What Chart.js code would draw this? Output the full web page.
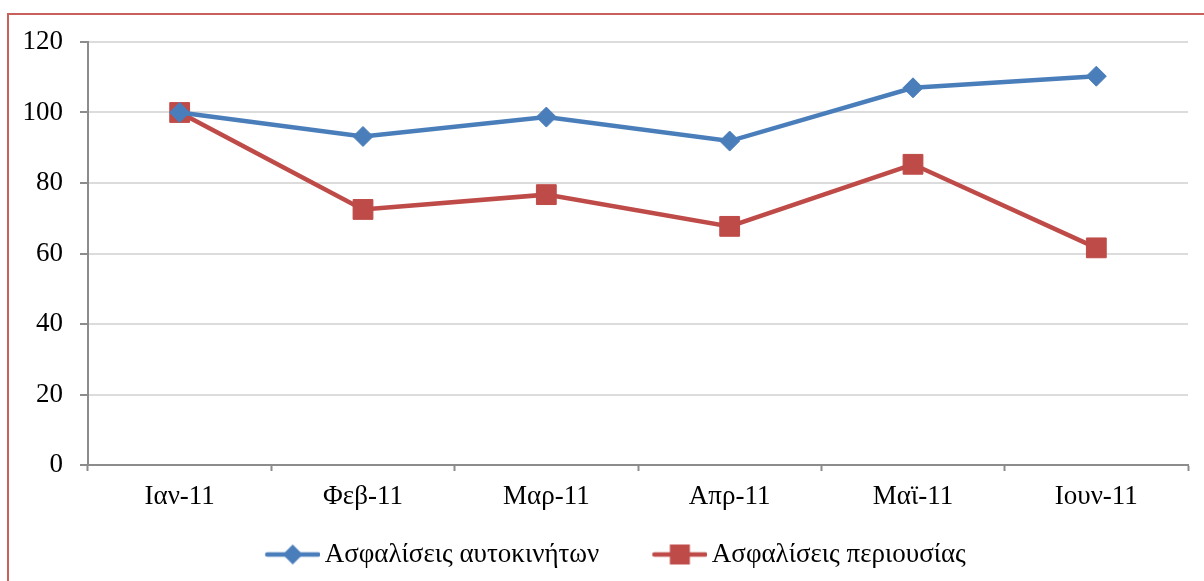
<!DOCTYPE html>
<html>
<head>
<meta charset="utf-8">
<script src="https://cdn.jsdelivr.net/npm/chart.js@4.4.1/dist/chart.umd.min.js"></script>
<style>
  html, body { margin: 0; padding: 0; background: #fff; overflow: hidden; }
  #marco { position: absolute; left: 7px; top: 13px; width: 1220px; height: 620px; border: 2px solid #c9605c; }
  #grafico { position: absolute; left: 0; top: 0; }
</style>
</head>
<body>
<div id="marco"></div>
<canvas id="grafico" width="1204" height="581"></canvas>
<script>
// categorias y series (indice, Ιαν-11 = 100)
var meses = ['Ιαν-11', 'Φεβ-11', 'Μαρ-11', 'Απρ-11', 'Μαϊ-11', 'Ιουν-11'];
var autokiniton = [100, 93.2, 98.7, 91.9, 107.0, 110.3];
var periousias = [100, 72.5, 76.7, 67.7, 85.3, 61.6];
var nombresSeries = ['Ασφαλίσεις αυτοκινήτων', 'Ασφαλίσεις περιουσίας'];

var AZUL = '#4a7ebb';
var ROJO = '#be4b48';
var FUENTE = '"Liberation Serif", "Times New Roman", serif';
var TAM = 27;

// icono de leyenda: linea con marcador, estilo Excel
function iconoLeyenda_(color, forma) {
  var c = document.createElement('canvas');
  c.width = 107;
  c.height = 24;
  var ctx = c.getContext('2d');
  var x0 = c.width - 55, xm = c.width - 27.5, y = 12;
  ctx.strokeStyle = color;
  ctx.lineWidth = 4.5;
  ctx.lineCap = 'round';
  ctx.beginPath();
  ctx.moveTo(x0 + 2, y);
  ctx.lineTo(c.width - 2, y);
  ctx.stroke();
  ctx.fillStyle = color;
  ctx.beginPath();
  if (forma === 'rombo') {
    ctx.moveTo(xm - 10, y);
    ctx.lineTo(xm, y - 10);
    ctx.lineTo(xm + 10, y);
    ctx.lineTo(xm, y + 10);
    ctx.closePath();
  } else {
    ctx.rect(xm - 10, y - 10, 20, 20);
  }
  ctx.fill();
  return c;
}

new Chart(document.getElementById('grafico'), {
  type: 'line',
  data: {
    labels: meses,
    datasets: [{
      label: nombresSeries[0],
      data: autokiniton,
      borderColor: AZUL,
      backgroundColor: AZUL,
      borderWidth: 4.5,
      pointStyle: 'rectRot',
      pointRadius: 10,
      pointBorderWidth: 1,
      tension: 0
    }, {
      label: nombresSeries[1],
      data: periousias,
      borderColor: ROJO,
      backgroundColor: ROJO,
      borderWidth: 4.5,
      pointStyle: 'rect',
      pointRadius: 14,
      pointBorderWidth: 1,
      tension: 0
    }]
  },
  options: {
    responsive: false,
    animation: false,
    devicePixelRatio: 1,
    layout: { padding: { left: 0, right: 16, top: 42, bottom: 3 } },
    plugins: {
      tooltip: { enabled: false },
      legend: {
        position: 'bottom',
        labels: {
          usePointStyle: true,
          pointStyleWidth: 89,
          padding: 10,
          color: '#000',
          font: { family: FUENTE, size: TAM },
          generateLabels: function (chart) {
            return chart.data.datasets.map(function (ds, i) {
              return {
                text: ds.label,
                pointStyle: iconoLeyenda_(ds.borderColor, i === 0 ? 'rombo' : 'cuadro'),
                fillStyle: ds.borderColor,
                strokeStyle: ds.borderColor,
                lineWidth: 0,
                fontColor: '#000',
                datasetIndex: i
              };
            });
          }
        }
      }
    },
    scales: {
      x: {
        offset: true,
        afterFit: function (escala) { escala.height = 66; },
        border: { display: true, color: '#8c8c8c', width: 2 },
        grid: { offset: true, drawOnChartArea: false, drawTicks: true, tickLength: 6, tickColor: '#8c8c8c', tickWidth: 2 },
        ticks: { color: '#000', padding: 10, maxRotation: 0, font: { family: FUENTE, size: TAM } }
      },
      y: {
        min: 0,
        max: 120,
        afterFit: function (escala) { escala.width = 88; },
        border: { display: true, color: '#8c8c8c', width: 2 },
        grid: { color: '#dcdcdc', lineWidth: 2, drawTicks: true, tickLength: 8, tickColor: '#8c8c8c', tickWidth: 2 },
        ticks: { stepSize: 20, color: '#000', padding: 17, font: { family: FUENTE, size: TAM } }
      }
    }
  }
});
</script>
</body>
</html>
